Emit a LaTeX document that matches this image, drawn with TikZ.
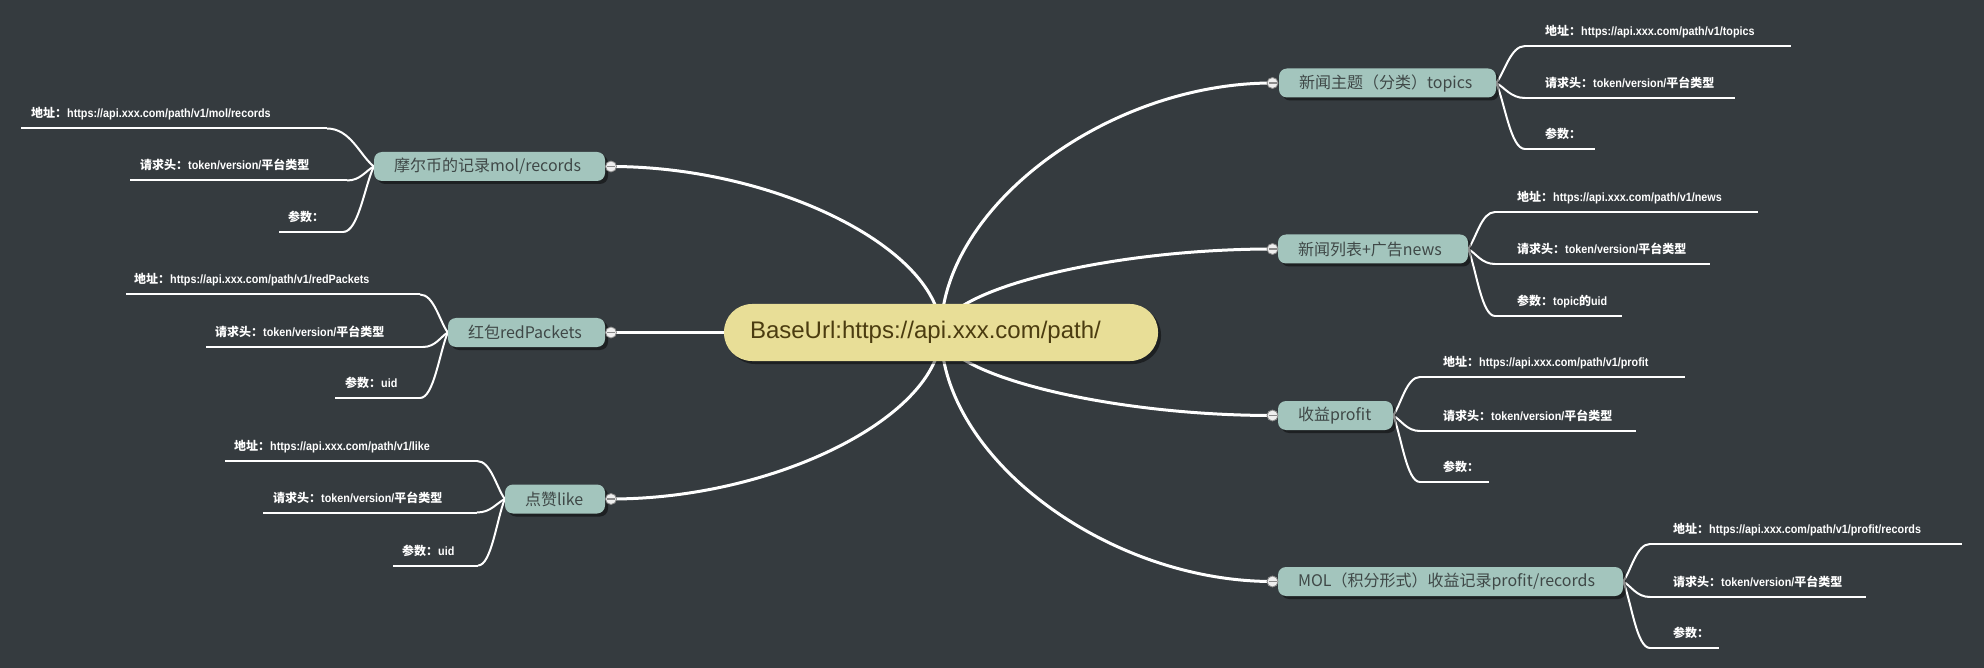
\documentclass[tikz,border=0pt]{standalone}
\usepackage{fontspec}
\newfontfamily\cjk{Noto Sans CJK SC}
\newfontfamily\lib{Liberation Sans}
\newfontfamily\narr{Liberation Sans}[FakeStretch=0.9]
\usetikzlibrary{calc,shadows}
\pgfdeclarelayer{back}\pgfdeclarelayer{lines}
\pgfsetlayers{back,lines,main}
\definecolor{bgc}{HTML}{353B3F}
\definecolor{boxc}{HTML}{A3C5BD}
\definecolor{boxtext}{HTML}{3F4847}
\definecolor{rootc}{HTML}{E8DE97}
\definecolor{roottext}{HTML}{4B3C10}
\definecolor{knobc}{HTML}{EEEEEE}
\definecolor{knobline}{HTML}{8A8A8A}
\tikzset{
  mainline/.style={draw=white, line width=3pt},
  leafline/.style={draw=white, line width=2pt},
  branch/.style={rectangle, rounded corners=8pt, fill=boxc, minimum height=29pt,
    inner xsep=20pt, inner ysep=0pt, text=boxtext, font=\cjk\fontsize{16}{18}\selectfont,
    drop shadow={shadow xshift=3pt, shadow yshift=-3pt, fill=black, opacity=0.45}},
  rootnode/.style={rectangle, rounded corners=28pt, fill=rootc, minimum height=57pt,
    inner xsep=26pt, inner ysep=0pt, text=roottext, font=\lib\fontsize{24}{28}\selectfont,
    drop shadow={shadow xshift=3pt, shadow yshift=-3pt, fill=black, opacity=0.45}},
  leaftext/.style={text=white, inner sep=0pt, font=\narr\bfseries\fontsize{12}{14}\selectfont},
  knob/.style={circle, minimum size=11pt, inner sep=0pt, fill=knobc, draw=knobline, line width=0.8pt,
    path picture={\draw[knobline, line width=1.2pt] ([xshift=-4pt]path picture bounding box.center) -- ([xshift=4pt]path picture bounding box.center);}}
}
\newcommand\zh[1]{{\cjk #1}}
\newcommand\bw[2]{\makebox[\dimexpr#1pt-40pt\relax][l]{#2}}
\newcommand\leaf[7]{%
  \coordinate (#1a) at (#2,#4);
  \coordinate (#1b) at (#3,#4);
  \node[leaftext, anchor=base west] (#1t) at (#5,#4-10.5) {#6#7};
  \begin{pgfonlayer}{lines}\draw[leafline] (#1a) -- (#1b);\end{pgfonlayer}}
\newcommand\rcon[2]{\begin{pgfonlayer}{lines}\draw[leafline] (#1.east) .. controls ($(#1.east)!0.3!(#2)$) and ($(#2)!0.5!(#1.east |- #2)$) .. (#2);\end{pgfonlayer}}
\newcommand\lcon[2]{\begin{pgfonlayer}{lines}\draw[leafline] (#1.west) .. controls ($(#1.west)!0.3!(#2)$) and ($(#2)!0.5!(#1.west |- #2)$) .. (#2);\end{pgfonlayer}}
\newcommand\mcon[2]{\begin{pgfonlayer}{lines}\draw[mainline] (#1.center) .. controls ($(#1.center)!0.5!(#1.center |- #2.center)$) and ($(#2.center)!0.5!(#1.center |- #2.center)$) .. (#2.center);\end{pgfonlayer}}
\newcommand\hdr{\zh{请求头：}token/version/\zh{平台类型}}
\begin{document}
\begin{tikzpicture}[x=1pt,y=-1pt]
\useasboundingbox (0,0) rectangle (1984,668);
\begin{pgfonlayer}{back}\fill[bgc] (0,0) rectangle (1984,668);\end{pgfonlayer}

% root
\node[rootnode] (root) at (941,332.5) {\makebox[382pt][l]{BaseUrl:https://api.xxx.com/path/}};

% branches right
\node[branch] (b1) at (1387.5,83) {\bw{217}{新闻主题（分类）topics}};
\node[branch] (b2) at (1373,249) {\bw{190}{新闻列表+广告news}};
\node[branch] (b3) at (1335.5,415.5) {\bw{115}{收益profit}};
\node[branch] (b4) at (1450.5,581.5) {\bw{345}{MOL（积分形式）收益记录profit/records}};
% branches left
\node[branch] (b5) at (489.5,166.5) {\bw{231}{摩尔币的记录mol/records}};
\node[branch] (b6) at (526.5,332.5) {\bw{157}{红包redPackets}};
\node[branch] (b7) at (555,499) {\bw{100}{点赞like}};

% knobs
\node[knob] (k1) at (1272.5,83) {};
\node[knob] (k2) at (1272.5,249) {};
\node[knob] (k3) at (1272.5,415.5) {};
\node[knob] (k4) at (1272.5,581.5) {};
\node[knob] (k5) at (611,166.5) {};
\node[knob] (k6) at (611,332.5) {};
\node[knob] (k7) at (611,499) {};

\mcon{root}{k1}\mcon{root}{k2}\mcon{root}{k3}\mcon{root}{k4}
\mcon{root}{k5}\mcon{root}{k6}\mcon{root}{k7}

% leaves: topics
\leaf{t1}{1525}{1791}{46}{1545}{}{\zh{地址：}https://api.xxx.com/path/v1/topics}
\leaf{t2}{1525}{1735}{98}{1545}{}{\hdr}
\leaf{t3}{1525}{1595}{149}{1545}{}{\zh{参数：}}
\rcon{b1}{t1a}\rcon{b1}{t2a}\rcon{b1}{t3a}
% news
\leaf{n1}{1495}{1758}{212}{1517}{}{\zh{地址：}https://api.xxx.com/path/v1/news}
\leaf{n2}{1495}{1710}{264}{1517}{}{\hdr}
\leaf{n3}{1495}{1622}{316}{1517}{}{\zh{参数：}topic\zh{的}uid}
\rcon{b2}{n1a}\rcon{b2}{n2a}\rcon{b2}{n3a}
% profit
\leaf{p1}{1420}{1685}{377}{1443}{}{\zh{地址：}https://api.xxx.com/path/v1/profit}
\leaf{p2}{1420}{1636}{431}{1443}{}{\hdr}
\leaf{p3}{1420}{1489}{482}{1443}{}{\zh{参数：}}
\rcon{b3}{p1a}\rcon{b3}{p2a}\rcon{b3}{p3a}
% MOL
\leaf{m1}{1650}{1962}{544}{1673}{}{\zh{地址：}https://api.xxx.com/path/v1/profit/records}
\leaf{m2}{1650}{1866}{597}{1673}{}{\hdr}
\leaf{m3}{1650}{1719}{648}{1673}{}{\zh{参数：}}
\rcon{b4}{m1a}\rcon{b4}{m2a}\rcon{b4}{m3a}
% mol/records
\leaf{r1}{21}{327}{128.5}{31}{}{\zh{地址：}https://api.xxx.com/path/v1/mol/records}
\leaf{r2}{130}{347}{180.5}{140}{}{\hdr}
\leaf{r3}{279}{343}{232}{288}{}{\zh{参数：}}
\lcon{b5}{r1b}\lcon{b5}{r2b}\lcon{b5}{r3b}
% redPackets
\leaf{e1}{126}{420}{294.5}{134}{}{\zh{地址：}https://api.xxx.com/path/v1/redPackets}
\leaf{e2}{206}{423}{347}{215}{}{\hdr}
\leaf{e3}{335}{420}{398}{345}{}{\zh{参数：}uid}
\lcon{b6}{e1b}\lcon{b6}{e2b}\lcon{b6}{e3b}
% like
\leaf{l1}{225}{477}{461}{234}{}{\zh{地址：}https://api.xxx.com/path/v1/like}
\leaf{l2}{263}{477}{512.5}{273}{}{\hdr}
\leaf{l3}{393}{478}{565.5}{402}{}{\zh{参数：}uid}
\lcon{b7}{l1b}\lcon{b7}{l2b}\lcon{b7}{l3b}
\end{tikzpicture}
\end{document}
